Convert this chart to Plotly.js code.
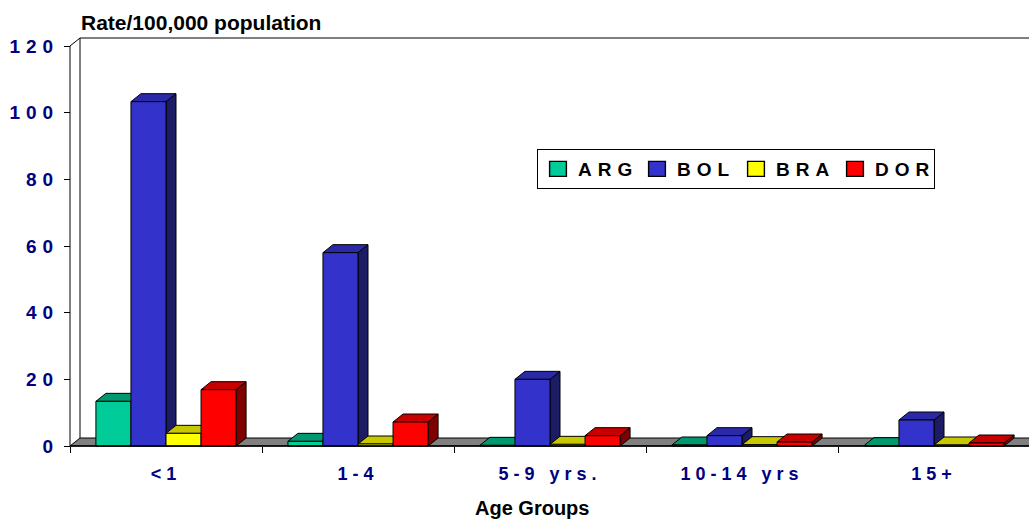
<!DOCTYPE html>
<html>
<head>
<meta charset="utf-8">
<script src="https://cdn.plot.ly/plotly-3.0.1.min.js"></script>
<style>
html, body { margin: 0; padding: 0; background: #fff; }
#chart { width: 1029px; height: 520px; }
.xtick text { letter-spacing: 5px; }
.ytick text { letter-spacing: 6px; }
.legendtext { letter-spacing: 6px; }
.legendpoints path { transform: translate(20px, 0px) scale(1.4, 1.25); }
</style>
</head>
<body>
<div id="chart"></div>
<script>
// ---- data ----
const categories = ['<1', '1-4', '5-9 yrs.', '10-14 yrs', '15+'];
const seriesNames = ['ARG', 'BOL', 'BRA', 'DOR'];
const ARG = [13.4, 1.4, 0.2, 0.3, 0.1];
const BOL = [103.3, 58, 20, 3.1, 7.8];
const BRA = [3.8, 0.6, 0.5, 0.4, 0.3];
const DOR = [16.9, 7.2, 3.1, 1.2, 0.9];
const yTickVals = [0, 20, 40, 60, 80, 100, 120];

// ---- styles ----
const frontColors = ['#00CC99', '#3333CC', '#FFFF00', '#FF0000'];
const topColors = ['#00996F', '#2A2AA8', '#C8C800', '#C80000'];
const sideColors = ['#006B50', '#1C1C66', '#808000', '#800000'];
const seriesValues = [ARG, BOL, BRA, DOR];

const bargap = 0.27;
const nSeries = seriesValues.length;
const barW = (1 - bargap) / nSeries;
// depth of the pseudo-3D effect in axis units (about 10px right, 8px up)
const dx = 10 / 192;
const dy = 2.4;
const yTop = 122.4;

const traces = seriesValues.map((vals, j) => ({
  type: 'bar',
  name: seriesNames[j],
  x: categories,
  y: vals,
  marker: { color: frontColors[j], line: { color: '#000', width: 1 } },
  hoverinfo: 'x+y+name'
}));

const shapes = [];
const xStart = -0.5;
const xEnd = categories.length - 0.5 + 0.2;
// floor slab
shapes.push({
  type: 'path', layer: 'below', xref: 'x', yref: 'y',
  path: `M${xStart},0 L${xEnd},0 L${xEnd + dx},${dy} L${xStart + dx},${dy} Z`,
  fillcolor: '#808080', line: { color: '#000', width: 1 }
});
// back wall edges
shapes.push({
  type: 'path', layer: 'below', xref: 'x', yref: 'y',
  path: `M${xStart + dx},${dy} L${xStart + dx},${yTop} L${xEnd + dx},${yTop}`,
  line: { color: '#000', width: 1 }
});
// front y-axis line and its diagonal
shapes.push({
  type: 'path', layer: 'above', xref: 'x', yref: 'y',
  path: `M${xStart},0 L${xStart},${yTickVals[yTickVals.length - 1]} L${xStart + dx},${yTop}`,
  line: { color: '#000', width: 1 }
});
// front x-axis line
shapes.push({
  type: 'line', layer: 'above', xref: 'x', yref: 'y',
  x0: xStart, x1: xEnd, y0: 0, y1: 0,
  line: { color: '#000', width: 1.5 }
});
// top and side faces of each bar, computed from the data
seriesValues.forEach((vals, j) => {
  vals.forEach((v, i) => {
    const x0 = i - (1 - bargap) / 2 + j * barW;
    const x1 = x0 + barW;
    shapes.push({
      type: 'path', layer: 'below', xref: 'x', yref: 'y',
      path: `M${x1},0 L${x1 + dx},${dy} L${x1 + dx},${v + dy} L${x1},${v} Z`,
      fillcolor: sideColors[j], line: { color: '#000', width: 1 }
    });
    shapes.push({
      type: 'path', layer: 'below', xref: 'x', yref: 'y',
      path: `M${x0},${v} L${x1},${v} L${x1 + dx},${v + dy} L${x0 + dx},${v + dy} Z`,
      fillcolor: topColors[j], line: { color: '#000', width: 1 }
    });
  });
});

const FAM = 'Liberation Sans, Arial, sans-serif';
const xTickFont = { family: FAM, size: 18, color: '#000080', weight: 'bold' };
const yTickFont = { family: FAM, size: 19, color: '#000080', weight: 'bold' };

const layout = {
  width: 1029, height: 520,
  margin: { l: 66, r: 0, t: 36, b: 70, pad: 0 },
  paper_bgcolor: '#fff', plot_bgcolor: 'rgba(0,0,0,0)',
  barmode: 'group', bargap: bargap, bargroupgap: 0,
  showlegend: true,
  legend: {
    orientation: 'h', x: (537 - 66) / 963, y: (450 - 169) / 414, xanchor: 'left', yanchor: 'middle',
    bgcolor: '#fff', bordercolor: '#000', borderwidth: 1,
    entrywidth: 54, entrywidthmode: 'pixels',
    font: { family: FAM, size: 19, color: '#000', weight: 'bold' },
    traceorder: 'normal'
  },
  xaxis: {
    type: 'category', range: [-0.5 - 4 / 192, -0.5 - 4 / 192 + 963 / 192],
    anchor: 'free', position: 4 / 414, automargin: false,
    showgrid: false, zeroline: false, showline: false,
    ticks: 'outside', tickson: 'boundaries', ticklen: 6, tickcolor: '#000', tickwidth: 1,
    tickfont: xTickFont, ticklabelstandoff: 15
  },
  yaxis: {
    range: [-1.2, 123.0],
    anchor: 'free', position: 4 / 963, automargin: false,
    showgrid: false, zeroline: false, showline: false,
    tickvals: yTickVals, ticktext: yTickVals.map(String),
    ticks: 'outside', ticklen: 6, tickcolor: '#000', tickwidth: 1,
    tickfont: yTickFont, ticklabelstandoff: 1
  },
  shapes: shapes,
  annotations: [
    {
      text: 'Rate/100,000 population', xref: 'paper', yref: 'paper',
      x: (79 - 66) / 963, y: (450 - 22) / 414, xanchor: 'left', yanchor: 'middle',
      showarrow: false,
      font: { family: FAM, size: 21, color: '#000', weight: 'bold' }
    },
    {
      text: 'Age Groups', xref: 'paper', yref: 'paper',
      x: (532 - 66) / 963, y: (450 - 508) / 414, xanchor: 'center', yanchor: 'middle',
      showarrow: false,
      font: { family: FAM, size: 20, color: '#000', weight: 'bold' }
    }
  ]
};

Plotly.newPlot('chart', traces, layout, { displayModeBar: false, staticPlot: true });
</script>
</body>
</html>
